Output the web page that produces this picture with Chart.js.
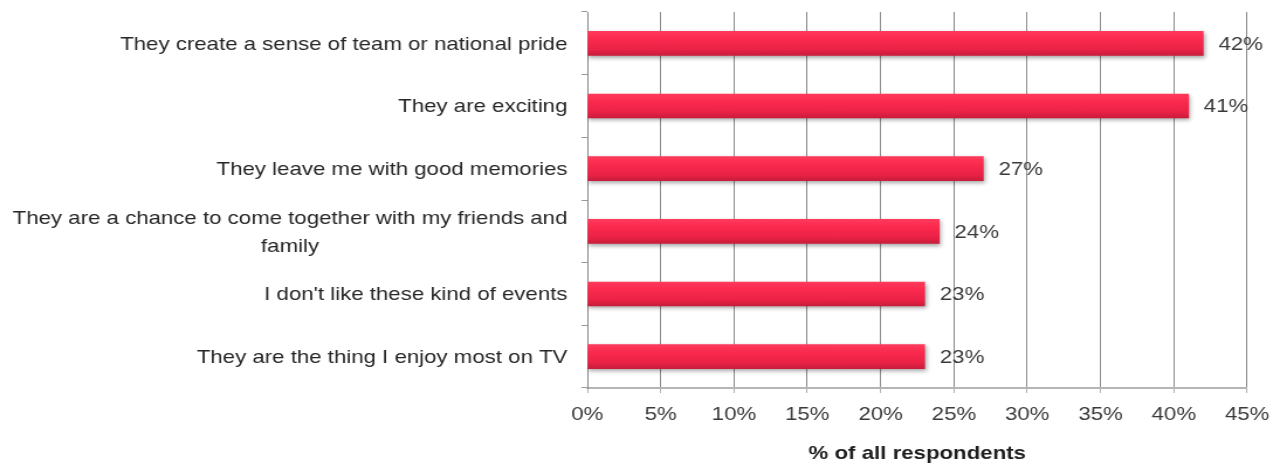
<!DOCTYPE html>
<html lang="en">
<head>
  <meta charset="UTF-8" />
  <title>Why people enjoy big sporting events</title>
  <script src="https://cdn.jsdelivr.net/npm/chart.js@4"></script>
  <style>
    html, body { margin: 0; padding: 0; background: #fff; overflow: hidden; }
    /* chart is laid out narrower and stretched sideways, like the wide Excel export */
    #wrap { width: 1095px; height: 465px; transform: scaleX(1.17); transform-origin: 0 0; }
  </style>
</head>
<body>
  <div id="wrap"><canvas id="chart"></canvas></div>
  <script>
    const reasons = [
      ["They create a sense of team or national pride"],
      ["They are exciting"],
      ["They leave me with good memories"],
      ["They are a chance to come together with my friends and", "family"],
      ["I don't like these kind of events"],
      ["They are the thing I enjoy most on TV"]
    ];
    const shares = [42, 41, 27, 24, 23, 23];
    const xTicks = [0, 5, 10, 15, 20, 25, 30, 35, 40, 45];

    const FONT = "'Liberation Sans', Arial, Helvetica, sans-serif";

    // red bars with a soft top-to-bottom shine
    function barFill(ctx) {
      const chart = ctx.chart;
      if (!chart.chartArea || !chart.scales.y) return "#f02448";
      const y = chart.scales.y.getPixelForValue(ctx.dataIndex);
      const g = chart.ctx.createLinearGradient(0, y - 12, 0, y + 12);
      g.addColorStop(0, "#ff3a5c");
      g.addColorStop(0.3, "#fb2a4e");
      g.addColorStop(0.75, "#ea2246");
      g.addColorStop(1, "#c91c3b");
      return g;
    }

    const barShadow = {
      id: "barShadow",
      beforeDatasetsDraw(chart) {
        const c = chart.ctx;
        c.save();
        c.shadowColor = "rgba(0,0,0,0.35)";
        c.shadowBlur = 4;
        c.shadowOffsetX = 1;
        c.shadowOffsetY = 2;
      },
      afterDatasetsDraw(chart) { chart.ctx.restore(); }
    };

    // category names left of the axis; wrapped names are centred on their widest line
    const categoryLabels = {
      id: "categoryLabels",
      afterDraw(chart) {
        const c = chart.ctx;
        const right = chart.chartArea.left - 17;
        c.save();
        c.font = "19px " + FONT;
        c.fillStyle = "#262626";
        c.textBaseline = "middle";
        reasons.forEach((lines, i) => {
          const y = chart.scales.y.getPixelForValue(i) + 1;
          if (lines.length === 1) {
            c.textAlign = "right";
            c.fillText(lines[0], right, y);
          } else {
            const w = Math.max(...lines.map(l => c.measureText(l).width));
            const cx = right - w / 2;
            const step = 28;
            const y0 = y - step * (lines.length - 1) / 2;
            c.textAlign = "center";
            lines.forEach((l, k) => c.fillText(l, cx, y0 + k * step));
          }
        });
        c.restore();
      }
    };

    // value labels just past the end of each bar
    const valueLabels = {
      id: "valueLabels",
      afterDatasetsDraw(chart) {
        const c = chart.ctx;
        const meta = chart.getDatasetMeta(0);
        c.save();
        c.font = "19px " + FONT;
        c.fillStyle = "#3a3a3a";
        c.textAlign = "left";
        c.textBaseline = "middle";
        meta.data.forEach((bar, i) => {
          c.fillText(shares[i] + "%", bar.x + 13, bar.y + 1);
        });
        c.restore();
      }
    };

    new Chart(document.getElementById("chart"), {
      type: "bar",
      data: {
        labels: reasons.map(r => r.join(" ")),
        datasets: [{
          data: shares,
          backgroundColor: barFill,
          borderWidth: 0,
          barThickness: 24
        }]
      },
      options: {
        indexAxis: "y",
        responsive: true,
        maintainAspectRatio: false,
        animation: false,
        layout: { padding: { left: 496, right: 28, top: 12, bottom: 0 } },
        plugins: { legend: { display: false }, tooltip: { enabled: false } },
        scales: {
          x: {
            min: 0,
            max: 45,
            afterBuildTicks: s => { s.ticks = xTicks.map(v => ({ value: v })); },
            afterFit: s => { s.height = 77; },
            grid: { color: "#8a8a8a", lineWidth: 1, tickLength: 5, tickColor: "#b0b0b0" },
            border: { color: "#b5b5b5", width: 2 },
            ticks: {
              callback: v => v + "%",
              color: "#3a3a3a",
              padding: 10,
              maxRotation: 0,
              font: { family: FONT, size: 19 }
            },
            title: {
              display: true,
              text: "% of all respondents",
              color: "#1e1e1e",
              padding: { top: 0, bottom: 0 },
              font: { family: FONT, size: 19, weight: "bold" }
            }
          },
          y: {
            afterFit: s => { s.width = 6; },
            grid: { drawOnChartArea: false, drawTicks: true, tickLength: 5, color: "#9a9a9a", offset: true },
            border: { color: "#8a8a8a", width: 1 },
            ticks: { display: false }
          }
        }
      },
      plugins: [barShadow, valueLabels, categoryLabels]
    });
  </script>
</body>
</html>
